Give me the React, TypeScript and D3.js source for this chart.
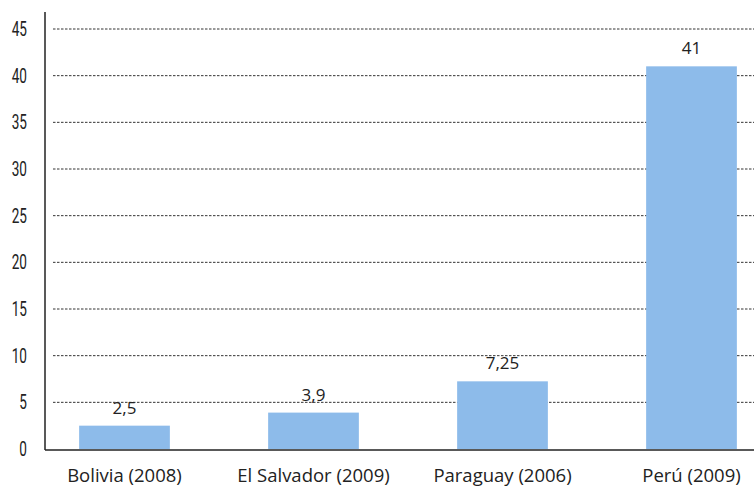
import React from "react";
import * as d3 from "d3";

const categories = ["Bolivia (2008)", "El Salvador (2009)", "Paraguay (2006)", "Perú (2009)"];
const values = [2.5, 3.9, 7.25, 41];
const valueLabels = ["2,5", "3,9", "7,25", "41"];
const yTicks = [0, 5, 10, 15, 20, 25, 30, 35, 40, 45];

const W = 754;
const H = 488;

export default function App() {
  const y = d3.scaleLinear().domain([0, 45]).range([449, 29]);
  const x = d3
    .scaleBand<string>()
    .domain(categories)
    .range([30, 786])
    .paddingInner(0.52)
    .paddingOuter(0.26);
  const axisX = 45;
  const textColor = "#222";
  return (
    <svg width={W} height={H} style={{ position: "absolute", left: 0, top: 0, background: "#fff" }}>
      <rect x={0} y={0} width={W} height={H} fill="#fff" />
      {yTicks.filter((t) => t > 0).map((t) => (
        <line
          key={"g" + t}
          x1={53}
          x2={W}
          y1={y(t)}
          y2={y(t)}
          stroke="#333"
          strokeWidth={1}
          strokeDasharray="2.5,1.5"
        />
      ))}
      {yTicks.map((t) => (
        <text
          key={"t" + t}
          transform={`translate(27,${y(t) + 7}) scale(0.68,1)`}
          textAnchor="end"
          fontFamily="Roboto, sans-serif"
          fontSize={20}
          fill={textColor}
        >
          {t}
        </text>
      ))}
      {categories.map((c, i) => (
        <rect
          key={"b" + c}
          x={x(c)}
          y={y(values[i])}
          width={x.bandwidth()}
          height={y(0) - y(values[i])}
          fill="#8dbbea"
        />
      ))}
      {categories.map((c, i) => (
        <text
          key={"v" + c}
          x={(x(c) as number) + x.bandwidth() / 2}
          y={y(values[i]) - 12}
          textAnchor="middle"
          fontFamily="'Open Sans', sans-serif"
          fontSize={17}
          fill={textColor}
        >
          {valueLabels[i]}
        </text>
      ))}
      {categories.map((c) => (
        <text
          key={"c" + c}
          x={(x(c) as number) + x.bandwidth() / 2}
          y={482}
          textAnchor="middle"
          fontFamily="'Open Sans', sans-serif"
          fontSize={18.5}
          fill={textColor}
        >
          {c}
        </text>
      ))}
      <line x1={axisX} x2={axisX} y1={12} y2={450} stroke="#222" strokeWidth={1.5} />
      <line x1={axisX} x2={W} y1={450} y2={450} stroke="#222" strokeWidth={1.5} />
    </svg>
  );
}
